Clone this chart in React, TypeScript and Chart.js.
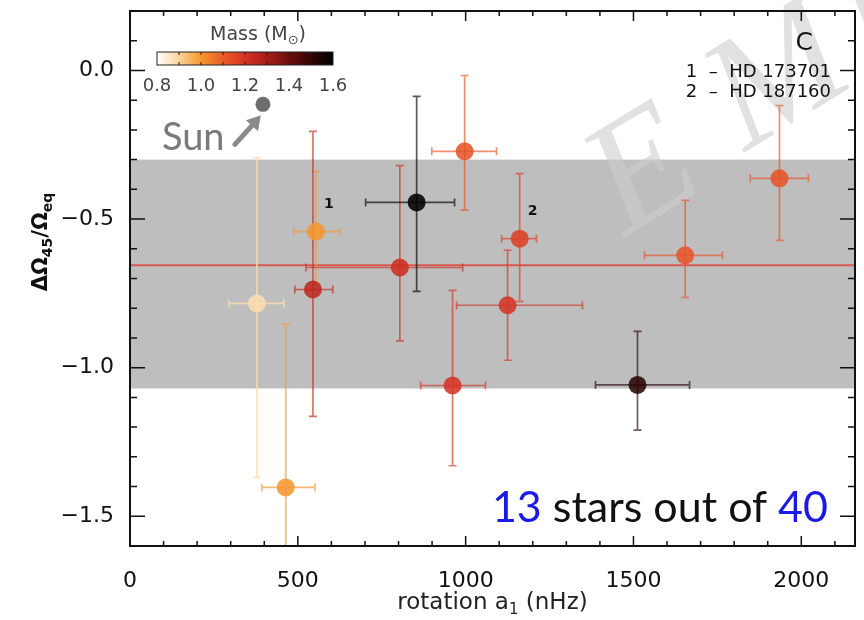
import React, { useEffect, useRef } from "react";
import { Chart, registerables } from "chart.js";
Chart.register(...registerables);

// ---- data ----
const rotation = [378, 464, 554, 545, 804, 854, 997, 961, 1125, 1161, 1512, 1654, 1935];
const rotationLow = [295, 393, 488, 491, 524, 702, 899, 866, 973, 1107, 1387, 1533, 1848];
const rotationHigh = [458, 551, 625, 604, 991, 967, 1092, 1059, 1348, 1211, 1667, 1765, 2021];
const shear = [-0.784, -1.403, -0.542, -0.737, -0.663, -0.444, -0.272, -1.06, -0.79, -0.566, -1.058, -0.622, -0.363];
const shearHigh = [-0.293, -0.854, -0.34, -0.205, -0.32, -0.087, -0.017, -0.74, -0.605, -0.347, -0.878, -0.437, -0.118];
const shearLow = [-1.369, -1.95, -0.72, -1.164, -0.91, -0.743, -0.47, -1.33, -0.975, -0.777, -1.21, -0.764, -0.572];
const mass = [0.88, 1.0, 1.0, 1.25, 1.22, 1.6, 1.12, 1.2, 1.2, 1.17, 1.52, 1.12, 1.12];
const starLabels = ["", "", "1", "", "", "", "", "", "", "2", "", "", ""];
const sunRotation = 396;
const sunShear = -0.114;
const meanShear = -0.655;
const bandTop = -0.3;
const bandBottom = -1.07;
const xTicks = [0, 500, 1000, 1500, 2000];
const yTicks = [0, -0.5, -1.0, -1.5];
const massTicks = [0.8, 1.0, 1.2, 1.4, 1.6];
const starNames = ["1  \u2013  HD 173701", "2  \u2013  HD 187160"];
const xMin = 0, xMax = 2160, yMin = -1.6, yMax = 0.2;
const massMin = 0.8, massMax = 1.6;

const cmapStops: [number, number[]][] = [
  [0.8, [255, 255, 255]],
  [0.9, [251, 212, 155]],
  [1.0, [246, 150, 45]],
  [1.1, [236, 92, 40]],
  [1.2, [212, 50, 36]],
  [1.3, [165, 30, 25]],
  [1.4, [110, 15, 12]],
  [1.5, [50, 5, 5]],
  [1.6, [0, 0, 0]],
];

function massColor(m: number, a = 1) {
  const v = Math.max(massMin, Math.min(massMax, m));
  for (let i = 0; i < cmapStops.length - 1; i++) {
    const [m0, c0] = cmapStops[i];
    const [m1, c1] = cmapStops[i + 1];
    if (v >= m0 && v <= m1) {
      const t = (v - m0) / (m1 - m0);
      const c = c0.map((c, k) => Math.round(c + (c1[k] - c) * t));
      return `rgba(${c[0]},${c[1]},${c[2]},${a})`;
    }
  }
  return `rgba(0,0,0,${a})`;
}

const FONT = "'DejaVu Sans', sans-serif";

const decor = {
  id: "decor",
  beforeDatasetsDraw(chart: any) {
    const { ctx, chartArea: a, scales } = chart;
    const y = scales.y;
    ctx.save();
    ctx.fillStyle = "#bebebe";
    const t = y.getPixelForValue(bandTop);
    const b = y.getPixelForValue(bandBottom);
    ctx.fillRect(a.left, t, a.right - a.left, b - t);
    // watermark
    ctx.fillStyle = "rgba(205,205,205,0.6)";
    ctx.font = `italic 160px 'Liberation Serif', serif`;
    ctx.textBaseline = "alphabetic";
    const wm: [string, number, number][] = [["E", 640, 175], ["M", 760, 90], ["B", 890, 20]];
    for (const [s, wx, wy] of wm) {
      ctx.save();
      ctx.translate(wx, wy);
      ctx.rotate(-0.55);
      ctx.fillText(s, -45, 45);
      ctx.restore();
    }
    ctx.restore();
  },
  beforeDatasetDraw(chart: any, args: any) {
    if (args.index !== 1) return;
    const { ctx, chartArea: a, scales } = chart;
    const x = scales.x, y = scales.y;
    ctx.save();
    ctx.beginPath();
    ctx.rect(a.left, a.top, a.right - a.left, a.bottom - a.top);
    ctx.clip();
    ctx.lineWidth = 1.7;
    const cap = 4;
    for (let i = 0; i < rotation.length; i++) {
      ctx.strokeStyle = massColor(mass[i], mass[i] < 0.95 ? 0.8 : 0.65);
      const px = x.getPixelForValue(rotation[i]);
      const py = y.getPixelForValue(shear[i]);
      const xl = x.getPixelForValue(rotationLow[i]);
      const xh = x.getPixelForValue(rotationHigh[i]);
      const yt = y.getPixelForValue(shearHigh[i]);
      const yb = y.getPixelForValue(shearLow[i]);
      ctx.beginPath();
      ctx.moveTo(xl, py); ctx.lineTo(xh, py);
      ctx.moveTo(xl, py - cap); ctx.lineTo(xl, py + cap);
      ctx.moveTo(xh, py - cap); ctx.lineTo(xh, py + cap);
      ctx.moveTo(px, yt); ctx.lineTo(px, yb);
      ctx.moveTo(px - cap, yt); ctx.lineTo(px + cap, yt);
      ctx.moveTo(px - cap, yb); ctx.lineTo(px + cap, yb);
      ctx.stroke();
    }
    ctx.restore();
  },
  afterDatasetsDraw(chart: any) {
    const { ctx, scales } = chart;
    const x = scales.x, y = scales.y;
    ctx.save();
    ctx.fillStyle = "#111";
    ctx.font = `bold 14px ${FONT}`;
    ctx.textAlign = "center";
    ctx.textBaseline = "middle";
    for (let i = 0; i < rotation.length; i++) {
      if (!starLabels[i]) continue;
      ctx.fillText(starLabels[i], x.getPixelForValue(rotation[i]) + 13, y.getPixelForValue(shear[i]) - 27);
    }
    ctx.restore();
  },
  afterDraw(chart: any) {
    const { ctx, chartArea: a, scales } = chart;
    const x = scales.x, y = scales.y;
    ctx.save();
    // frame
    ctx.strokeStyle = "#111";
    ctx.lineWidth = 2;
    ctx.strokeRect(a.left, a.top, a.right - a.left, a.bottom - a.top);
    // ticks
    ctx.lineWidth = 1.5;
    ctx.beginPath();
    for (let k = 0; k * 100 <= xMax; k++) {
      const v = k * 100;
      const px = x.getPixelForValue(v);
      const major = v % 500 === 0;
      const L = major ? 10 : 5;
      ctx.moveTo(px, a.bottom); ctx.lineTo(px, a.bottom - L);
      ctx.moveTo(px, a.top); ctx.lineTo(px, a.top + L);
    }
    for (let k = -16; k <= 2; k++) {
      const v = k / 10;
      const py = y.getPixelForValue(v);
      const major = k % 5 === 0;
      const L = major ? 15 : 7;
      ctx.moveTo(a.left, py); ctx.lineTo(a.left + L, py);
      ctx.moveTo(a.right, py); ctx.lineTo(a.right - L, py);
    }
    ctx.stroke();

    // colorbar
    const cbL = 157, cbR = 333, cbT = 52, cbB = 65;
    const grad = ctx.createLinearGradient(cbL, 0, cbR, 0);
    for (const [m, c] of cmapStops) {
      grad.addColorStop((m - massMin) / (massMax - massMin), `rgb(${c[0]},${c[1]},${c[2]})`);
    }
    ctx.fillStyle = grad;
    ctx.fillRect(cbL, cbT, cbR - cbL, cbB - cbT);
    ctx.strokeStyle = "#222";
    ctx.lineWidth = 1;
    ctx.strokeRect(cbL, cbT, cbR - cbL, cbB - cbT);
    ctx.beginPath();
    for (let k = 1; k < 8; k++) {
      const px = cbL + ((cbR - cbL) * k) / 8;
      ctx.moveTo(px, cbT); ctx.lineTo(px, cbT + 3);
      ctx.moveTo(px, cbB); ctx.lineTo(px, cbB - 3);
    }
    ctx.stroke();
    ctx.fillStyle = "#444";
    ctx.font = `18px ${FONT}`;
    ctx.textAlign = "center";
    ctx.textBaseline = "middle";
    for (const m of massTicks) {
      const px = cbL + ((cbR - cbL) * (m - massMin)) / (massMax - massMin);
      ctx.fillText(m.toFixed(1), px, 86);
    }
    // "Mass (M⊙)"
    ctx.textAlign = "left";
    ctx.font = `19px ${FONT}`;
    const p1 = "Mass (M";
    const w1 = ctx.measureText(p1).width;
    ctx.font = `13px ${FONT}`;
    const w2 = ctx.measureText("\u2299").width;
    ctx.font = `19px ${FONT}`;
    const w3 = ctx.measureText(")").width;
    let sx = 258 - (w1 + w2 + w3) / 2;
    ctx.fillText(p1, sx, 35);
    ctx.font = `13px ${FONT}`;
    ctx.fillText("\u2299", sx + w1, 41);
    ctx.font = `19px ${FONT}`;
    ctx.fillText(")", sx + w1 + w2, 35);

    // C and star names
    ctx.fillStyle = "#111";
    ctx.textAlign = "right";
    ctx.font = `25px ${FONT}`;
    ctx.fillText("C", 813, 43);
    ctx.font = `18px ${FONT}`;
    ctx.fillText(starNames[0], 831, 72);
    ctx.fillText(starNames[1], 831, 92);

    // Sun annotation
    const spx = x.getPixelForValue(sunRotation);
    const spy = y.getPixelForValue(sunShear);
    ctx.strokeStyle = "#8a8a8a";
    ctx.fillStyle = "#8a8a8a";
    ctx.lineWidth = 5;
    ctx.lineCap = "round";
    ctx.beginPath();
    ctx.moveTo(spx - 28, spy + 40);
    ctx.lineTo(spx - 8, spy + 18);
    ctx.stroke();
    ctx.beginPath();
    ctx.moveTo(spx - 2, spy + 11);
    ctx.lineTo(spx - 17, spy + 16);
    ctx.lineTo(spx - 5, spy + 27);
    ctx.closePath();
    ctx.fill();
    ctx.fillStyle = "#7a7a7a";
    ctx.textAlign = "left";
    ctx.textBaseline = "alphabetic";
    ctx.font = `38px Lato, sans-serif`;
    ctx.fillText("Sun", spx - 101, spy + 46);

    // "13 stars out of 40"
    ctx.font = `43px Lato, sans-serif`;
    const parts: [string, string][] = [["13", "#1a1ae6"], [" stars out of ", "#111"], ["40", "#1a1ae6"]];
    const total = parts.reduce((s, p) => s + ctx.measureText(p[0]).width, 0);
    let tx = 828 - total;
    for (const [s, c] of parts) {
      ctx.fillStyle = c;
      ctx.fillText(s, tx, 522);
      tx += ctx.measureText(s).width;
    }

    // y title
    ctx.save();
    ctx.translate(42, 242);
    ctx.rotate(-Math.PI / 2);
    ctx.fillStyle = "#111";
    const ys: [string, number, number][] = [["\u0394\u03a9", 21, 0], ["45", 14, 6], ["/\u03a9", 21, 0], ["eq", 14, 6]];
    let tw = 0;
    for (const [s, f] of ys) { ctx.font = `bold ${f}px ${FONT}`; tw += ctx.measureText(s).width; }
    let cx = -tw / 2;
    ctx.textBaseline = "middle";
    for (const [s, f, dy] of ys) {
      ctx.font = `bold ${f}px ${FONT}`;
      ctx.fillText(s, cx, dy);
      cx += ctx.measureText(s).width;
    }
    ctx.restore();

    // x title
    const xs: [string, number, number][] = [["rotation a", 23, 0], ["1", 15, 7], [" (nHz)", 23, 0]];
    tw = 0;
    for (const [s, f] of xs) { ctx.font = `${f}px ${FONT}`; tw += ctx.measureText(s).width; }
    cx = (a.left + a.right) / 2 - tw / 2;
    ctx.fillStyle = "#222";
    ctx.textBaseline = "middle";
    for (const [s, f, dy] of xs) {
      ctx.font = `${f}px ${FONT}`;
      ctx.fillText(s, cx, 603 + dy);
      cx += ctx.measureText(s).width;
    }
    ctx.restore();
  },
};

export default function App() {
  const ref = useRef<HTMLCanvasElement | null>(null);
  useEffect(() => {
    if (!ref.current) return;
    const stars = rotation.map((r, i) => ({ x: r, y: shear[i] }));
    const chart = new Chart(ref.current, {
      type: "scatter",
      data: {
        datasets: [
          {
            type: "line",
            data: [{ x: xMin, y: meanShear }, { x: xMax, y: meanShear }],
            borderColor: "rgba(222,70,60,0.85)",
            borderWidth: 2,
            pointRadius: 0,
            order: 3,
          } as any,
          {
            data: stars,
            pointRadius: 9,
            pointBorderWidth: 0,
            pointBackgroundColor: mass.map((m) => massColor(m, 0.87)),
            order: 1,
          },
          {
            data: [{ x: sunRotation, y: sunShear }],
            pointRadius: 7.5,
            pointBorderWidth: 0,
            pointBackgroundColor: "#6e6e6e",
            order: 2,
          },
        ],
      },
      options: {
        responsive: false,
        animation: false,
        events: [],
        layout: { padding: { top: 11, right: 7, left: 0, bottom: 0 } },
        plugins: { legend: { display: false }, tooltip: { enabled: false } },
        scales: {
          x: {
            type: "linear",
            min: xMin,
            max: xMax,
            grid: { display: false },
            border: { display: false },
            afterBuildTicks: (s: any) => { s.ticks = xTicks.map((v) => ({ value: v })); },
            afterFit: (s: any) => { s.height = 74; s.paddingLeft = 0; s.paddingRight = 0; },
            ticks: {
              font: { family: FONT, size: 22 },
              color: "#111",
              padding: 14,
              maxRotation: 0,
              callback: (v: any) => String(v),
            },
          },
          y: {
            type: "linear",
            min: yMin,
            max: yMax,
            grid: { display: false },
            border: { display: false },
            afterBuildTicks: (s: any) => { s.ticks = yTicks.map((v) => ({ value: v })); },
            afterFit: (s: any) => { s.width = 130; s.paddingTop = 0; s.paddingBottom = 0; },
            ticks: {
              font: { family: FONT, size: 22 },
              color: "#111",
              padding: 8,
              callback: (v: any) => (Number(v) === 0 ? "0.0" : "\u2212" + Math.abs(Number(v)).toFixed(1)),
            },
          },
        },
      },
      plugins: [decor],
    });
    return () => chart.destroy();
  }, []);
  return (
    <div style={{ position: "fixed", left: 0, top: 0, width: 864, height: 620, background: "#fff" }}>
      <canvas ref={ref} width={864} height={620} style={{ width: 864, height: 620 }} />
    </div>
  );
}
